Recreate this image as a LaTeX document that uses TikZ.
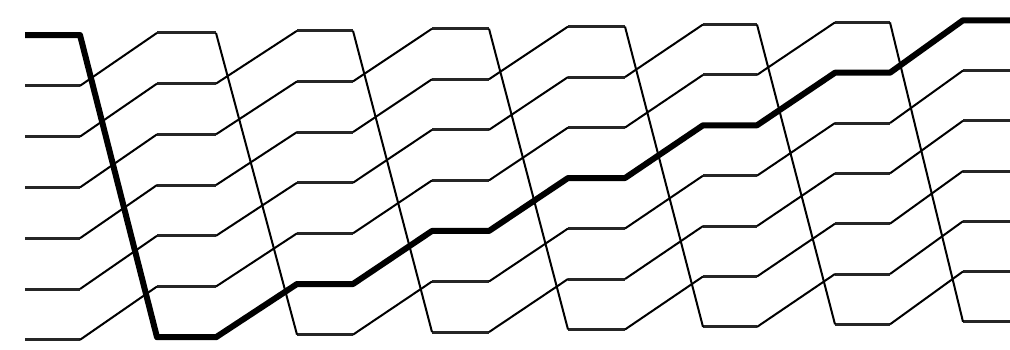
\documentclass[tikz,border=0pt]{standalone}
\begin{document}
\begin{tikzpicture}[x=1pt,y=-1pt,
  wire/.style={line width=3pt,black!85},
  link/.style={line width=2pt,black},
  hot/.style={line width=6pt,black,line join=round,line cap=butt}]
\useasboundingbox (0,0) rectangle (1010,349);
\def\xs{{25,157,297,432,568,703,835,963}}
\def\xe{{80,216,353,489,625,757,890,1010}}
\foreach \k in {0,...,7}{
  \foreach \j in {0,...,6}{
    \pgfmathsetmacro\ya{35-2.1*\k+(50.8-0.08*\k)*\j}
    \pgfmathsetmacro\xa{\xs[\k]}
    \pgfmathsetmacro\xb{\xe[\k]}
    \coordinate (s\k-\j) at (\xa,\ya);
    \coordinate (e\k-\j) at (\xb,\ya);
  }
}
% horizontal segments
\foreach \k in {0,...,7}{
  \foreach \j in {0,...,6}{
    \draw[wire] (s\k-\j) -- (e\k-\j);
  }
}
% connectors between columns (cyclic shift)
\foreach \k [evaluate=\k as \n using int(\k+1)] in {0,...,6}{
  \draw[link] (e\k-0) -- (s\n-6);
  \foreach \j [evaluate=\j as \m using int(\j-1)] in {1,...,6}{
    \draw[link] (e\k-\j) -- (s\n-\m);
  }
}
% highlighted path
\draw[hot] (s0-0) -- (e0-0) -- (s1-6) -- (e1-6) -- (s2-5) -- (e2-5)
  -- (s3-4) -- (e3-4) -- (s4-3) -- (e4-3) -- (s5-2) -- (e5-2)
  -- (s6-1) -- (e6-1) -- (s7-0) -- (e7-0);
\end{tikzpicture}
\end{document}
